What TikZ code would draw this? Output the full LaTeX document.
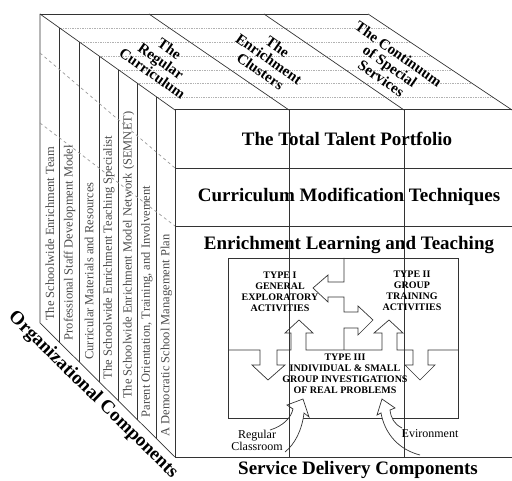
\documentclass[tikz,border=0pt]{standalone}
\usepackage{fontspec}
\setmainfont{Liberation Serif}
\usetikzlibrary{shapes,arrows,positioning}

\begin{document}
\begin{tikzpicture}[x=1pt,y=-1pt,line width=0.7pt,draw=black!80,
    bigstyle/.style={font=\fontsize{19}{21}\selectfont\bfseries,inner sep=0},
    topstyle/.style={font=\fontsize{15}{15}\selectfont\bfseries,align=center,rotate=-35,inner sep=0},
    orgstyle/.style={font=\fontsize{12.5}{13}\selectfont,text=black!70,rotate=90,anchor=west,inner sep=1},
    typestyle/.style={font=\fontsize{10}{11}\selectfont\bfseries,align=center,inner sep=0},
    smallstyle/.style={font=\fontsize{12}{12}\selectfont,align=center,inner sep=0},
    gridline/.style={draw=gray!60,densely dotted},
    guideline/.style={draw=gray!80,dashed}]
\useasboundingbox (0,0) rectangle (512,481);
\clip (0,0) rectangle (512,481);
% top of the cube
\foreach \y in {28,42,56,70,83,97}
  \draw[gridline] ({40+(\y-14)*1.406},\y)--({368+(\y-14)*1.5},\y);
\draw (40,14)--(368,14) ;
\draw (40,14)--(175,110) ;
\draw (149,14)--(289,110) ;
\draw (264,14)--(404,110) ;
\draw (368,14)--(512,110) ;
% left side
\draw (40,14)--(40,323)--(175,457) ;
\foreach \x in {59.7,79.4,99,118.7,137.3,156.7}
  \draw (\x,{14+(\x-40)*0.711})--(\x,{323+(\x-40)*0.993});
\draw [guideline] (40,53)--(175,168) ;
\draw [guideline] (40,123)--(175,226) ;
% the three types
\draw (228,258) rectangle (458,418) ;
\draw (344,258)--(344,282)--(328,282)--(328,275)--(313,288)--(328,302)--(328,297)--(344,297)
      --(344,312)--(358,312)--(358,306)--(373,320)--(358,335)--(358,328)--(344,328)--(344,350) ;
\draw (228,350)--(260,350)--(260,365)--(252,365)--(268,380)--(285,365)--(277,365)--(277,350)
      --(291,350)--(291,333)--(285,333)--(299,320)--(313,333)--(306,333)--(306,350)
      --(382,350)--(382,333)--(374,333)--(389,320)--(403,333)--(397,333)--(397,350)
      --(413,350)--(413,365)--(405,365)--(420,380)--(435,365)--(428,365)--(428,350)--(458,350) ;
\draw [fill=white] (270,430) .. controls (283,426) and (291,418) .. (293,409)--(287,405)--(303,399)
      --(309,417)--(304,413) .. controls (302,430) and (295,444) .. (285,452) ;
\draw [fill=white] (402,428) .. controls (394,424) and (391,418) .. (390,410)--(395,408)--(382,399)
      --(377,415)--(381,413) .. controls (385,435) and (400,450) .. (420,455) ;
% front of the cube
\draw [line width=1pt] (175,110)--(512,110) ;
\draw (175,168)--(512,168) ;
\draw (175,226)--(512,226) ;
\draw (175,457)--(512,457) ;
\draw (175,110)--(175,457) ;
\draw (289,110)--(289,457) ;
\draw (404,110)--(404,457) ;
       \node [bigstyle]  (portfolio) at (347,139) {The Total Talent Portfolio};
       \node [bigstyle]  (modify) at (349,197) {Curriculum Modification Techniques};
       \node [bigstyle]  (enrich) at (349,245) {Enrichment Learning and Teaching};
       \node [bigstyle]  (service) at (358,470) {Service Delivery Components};
       \node [bigstyle,rotate=-44.5]  (organize) at (93,395) {Organizational Components};
       \node [topstyle]  (regular) at (161,61) {The\\Regular\\Curriculum};
       \node [topstyle]  (clusters) at (269,59) {The\\Enrichment\\Clusters};
       \node [topstyle]  (continuum) at (390,66) {The Continuum\\of Special\\Services};
       \node [orgstyle]  (team) at (49.8,322) {The Schoolwide Enrichment Team};
       \node [orgstyle]  (staff) at (69.5,341.6) {Professional Staff Development Model};
       \node [orgstyle]  (materials) at (89.2,361) {Curricular Materials and Resources};
       \node [orgstyle]  (specialist) at (108.9,380.6) {The Schoolwide Enrichment Teaching Specialist};
       \node [orgstyle]  (semnet) at (128.5,400) {The Schoolwide Enrichment Model Network (SEMNET)};
       \node [orgstyle]  (parent) at (147,418.6) {Parent Orientation, Training, and Involvement};
       \node [orgstyle]  (democratic) at (166.4,438) {A Democratic School Management Plan};
       \node [typestyle]  (typeone) at (280,292) {TYPE I\\GENERAL\\EXPLORATORY\\ACTIVITIES};
       \node [typestyle]  (typetwo) at (412,291) {TYPE II\\GROUP\\TRAINING\\ACTIVITIES};
       \node [typestyle]  (typethree) at (345,374) {TYPE III\\INDIVIDUAL \& SMALL\\GROUP INVESTIGATIONS\\OF REAL PROBLEMS};
       \node [smallstyle]  (classroom) at (257,440) {Regular\\Classroom};
       \node [smallstyle]  (environ) at (430,434) {Evironment};
\end{tikzpicture}
\end{document}
